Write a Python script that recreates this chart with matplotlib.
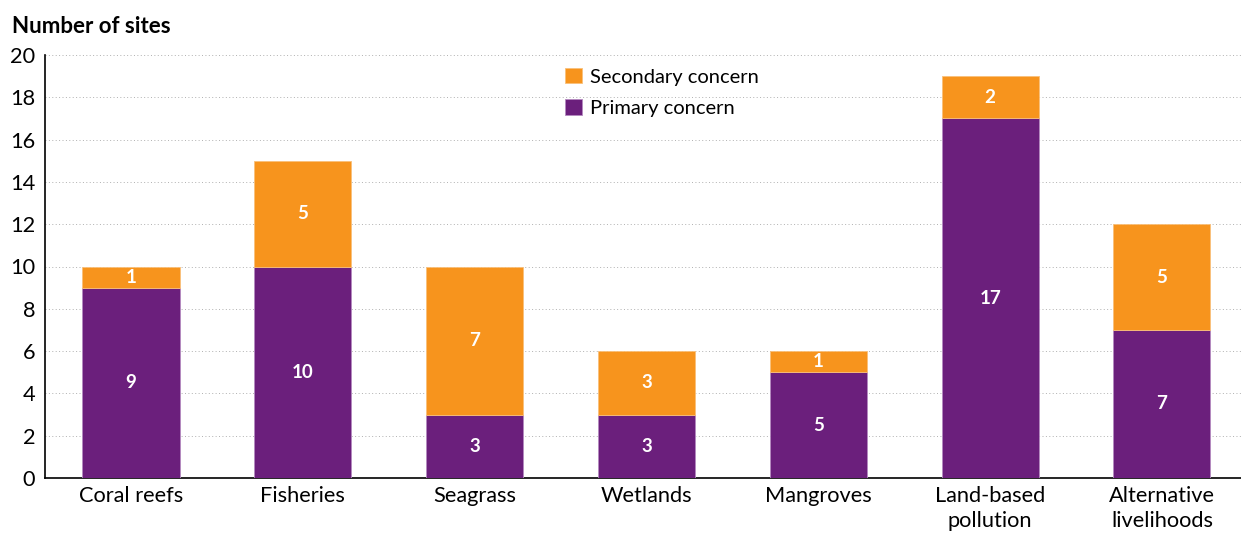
import numpy as np
import matplotlib.pyplot as plt

plt.rcParams['font.family'] = ['Lato', 'DejaVu Sans']

# Data
categories = ["Coral reefs", "Fisheries", "Seagrass", "Wetlands", "Mangroves",
              "Land-based\npollution", "Alternative\nlivelihoods"]
primary = [9, 10, 3, 3, 5, 17, 7]
secondary = [1, 5, 7, 3, 1, 2, 5]
yticks = [0, 2, 4, 6, 8, 10, 12, 14, 16, 18, 20]

purple = "#6B1F7C"
orange = "#F7941D"

fig = plt.figure(figsize=(12.41, 5.33), dpi=100)
ax = fig.add_axes([0.0363, 0.1032, 0.9637, 0.7936])

x = np.arange(len(categories))
w = 0.565
b1 = ax.bar(x, primary, w, color=purple, edgecolor="#b48ac0", linewidth=0.6,
            label="Primary concern", zorder=3)
b2 = ax.bar(x, secondary, w, bottom=primary, color=orange, edgecolor="#f9c07a",
            linewidth=0.6, label="Secondary concern", zorder=3)

# value labels in the middle of each segment
for i in range(len(categories)):
    ax.text(x[i], primary[i] / 2, str(primary[i]), ha="center", va="center",
            color="white", fontweight="bold", fontsize=13.5, zorder=4)
    ax.text(x[i], primary[i] + secondary[i] / 2, str(secondary[i]), ha="center",
            va="center", color="white", fontweight="bold", fontsize=13.5, zorder=4)

ax.set_xlim(-0.5, 6.46)
ax.set_ylim(0, 20)
ax.set_yticks(yticks)
ax.set_xticks(x)
ax.set_xticklabels(categories, fontsize=15.7, linespacing=1.3)
ax.tick_params(axis="y", labelsize=15.7, length=0, pad=7)
ax.tick_params(axis="x", length=0, pad=6)
ax.yaxis.grid(True, linestyle=(0, (1, 2.5)), color="#b0b0b0", linewidth=0.7, zorder=0)
ax.set_axisbelow(True)

for s in ["top", "right"]:
    ax.spines[s].set_visible(False)
ax.spines["left"].set_linewidth(1.2)
ax.spines["bottom"].set_linewidth(1.2)

fig.text(0.01, 0.95, "Number of sites", fontsize=16, fontweight="bold", va="center")

ax.legend([b2, b1], ["Secondary concern", "Primary concern"], loc="upper left",
          bbox_to_anchor=(0.42, 1.012), frameon=False, fontsize=14.5,
          handlelength=0.8, handleheight=0.8, handletextpad=0.4, labelspacing=0.68)

fig.savefig("out.png", dpi=100)
